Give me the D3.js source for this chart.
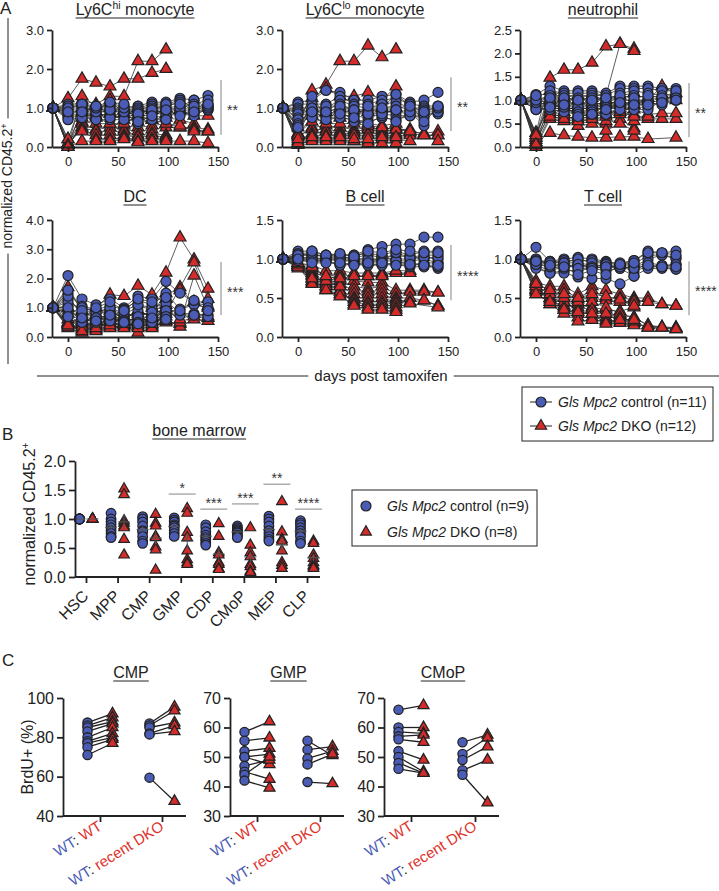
<!DOCTYPE html>
<html><head><meta charset="utf-8">
<script src="https://cdn.jsdelivr.net/npm/d3@7"></script>
<style>body{margin:0;background:#fff}svg{display:block}text{font-family:"Liberation Sans",Arial,Helvetica,sans-serif}</style>
</head><body><svg id="c" width="719" height="891"></svg>
<script>
// ---------------- DATA ----------------
const days = [-15,0,14,28,42,56,70,84,98,112,126,140];
const xTicksA = [0,50,100,150];
const sigA = ["**","**","**","***","****","****"];

const ly6chiCtrl = [
 [1,1.10,1.10,1.05,1.05,1.00,1.05,1.15,1.15,1.25,1.20,1.32],
 [1,1.00,1.05,1.00,1.10,1.05,1.00,1.10,1.10,1.20,1.00,1.10],
 [1,0.95,1.00,0.95,0.95,0.95,0.95,1.05,1.05,1.15,0.90,1.00],
 [1,0.90,0.95,0.90,0.90,0.90,0.90,1.00,1.00,1.05,1.20,1.00],
 [1,0.85,0.90,0.85,1.00,0.85,0.85,0.95,0.95,1.00,0.95,1.05],
 [1,0.80,0.85,0.80,0.85,0.80,0.80,0.90,0.90,0.95,0.90,0.95],
 [1,0.75,0.80,0.75,0.80,0.75,0.75,0.85,0.85,0.90,0.85,0.95],
 [1,0.70,0.75,0.70,0.70,0.70,0.70,0.75,0.80,0.85,0.80,1.00],
 [1,1.05,1.05,0.90,0.75,0.90,0.60,0.70,0.70,1.00,1.10,1.20],
 [1,1.00,1.10,1.00,0.95,1.00,0.85,0.95,1.10,1.10,1.05,1.05],
 [1,0.90,0.90,1.05,1.15,1.10,0.65,0.80,0.95,0.80,0.90,1.10]];
const ly6chiDko = [
 [1,1.25,1.75,1.65,1.55,1.75,1.75,1.90,2.00,null,null,null],
 [1,0.20,1.20,1.10,1.30,1.30,2.20,2.20,2.50,null,null,null],
 [1,0.05,1.30,1.05,1.00,0.95,1.00,1.00,1.00,0.95,0.80,0.80],
 [1,0.10,0.90,0.80,0.85,0.70,0.65,0.70,0.75,0.70,0.60,null],
 [1,0.00,0.65,0.60,0.60,0.55,0.50,0.55,0.60,0.50,0.50,0.45],
 [1,0.00,0.60,0.45,0.50,0.45,0.40,0.45,0.50,0.50,0.45,0.40],
 [1,0.05,0.50,0.40,0.40,0.40,0.30,0.35,0.30,null,null,null],
 [1,0.10,0.45,0.30,0.30,0.30,0.25,0.30,0.25,null,null,null],
 [1,0.20,0.40,0.20,0.20,0.25,0.15,0.20,0.20,null,null,null],
 [1,0.00,0.15,0.15,0.15,0.20,0.12,0.15,0.15,0.15,0.15,0.10],
 [1,0.05,0.75,0.75,0.60,0.60,0.80,0.70,0.60,0.55,0.40,0.40],
 [1,0.00,1.00,0.90,1.20,0.85,0.90,0.95,0.85,null,null,null]];

const ly6cloCtrl = [
 [1,1.15,1.20,1.45,1.40,1.20,1.20,1.30,1.35,1.15,1.20,1.40],
 [1,1.10,1.10,1.10,1.30,1.10,1.10,1.20,1.25,1.10,1.05,1.05],
 [1,1.00,1.00,1.00,1.20,1.05,1.00,1.10,1.15,1.00,1.00,1.00],
 [1,0.95,0.90,0.95,1.10,0.95,0.95,1.00,1.05,0.95,0.95,0.95],
 [1,0.90,0.85,0.90,1.00,0.90,0.90,0.95,0.95,0.90,0.90,0.90],
 [1,0.85,0.80,0.85,0.90,0.85,0.85,0.90,0.90,0.85,0.85,0.85],
 [1,0.75,0.75,0.80,0.80,0.80,0.75,0.85,0.80,0.80,0.80,0.90],
 [1,0.70,1.30,0.75,0.75,0.70,0.65,0.75,0.70,0.80,0.75,null],
 [1,0.60,0.95,0.70,0.95,0.65,0.60,0.80,0.65,0.90,0.55,null],
 [1,0.55,1.00,1.05,1.05,0.95,0.85,0.85,0.95,1.10,0.65,1.00],
 [1,0.50,0.90,0.90,0.85,0.75,1.05,1.00,1.35,1.05,0.90,1.05]];
const ly6cloDko = [
 [1,0.50,1.45,1.60,2.20,2.20,2.60,2.30,2.50,null,null,null],
 [1,0.30,1.25,1.50,1.30,1.30,1.40,1.20,1.55,null,null,null],
 [1,0.35,1.00,0.90,1.00,1.00,0.90,1.00,1.00,null,null,null],
 [1,0.25,0.50,0.55,0.50,0.45,0.50,0.45,0.50,0.40,0.35,0.40],
 [1,0.30,0.45,0.45,0.40,0.40,0.45,0.40,0.45,0.45,0.30,0.30],
 [1,0.15,0.35,0.40,0.35,0.35,0.35,0.35,0.35,0.35,0.30,0.30],
 [1,0.10,0.30,0.30,0.30,0.30,0.30,0.30,0.30,0.30,null,null],
 [1,0.05,0.20,0.20,0.20,0.15,0.15,0.20,0.20,0.15,0.30,0.15],
 [1,0.10,0.15,0.15,0.15,0.15,0.10,0.10,0.10,null,null,null],
 [1,0.35,0.65,0.70,0.75,0.70,0.60,0.55,0.60,null,null,null],
 [1,0.30,0.80,0.60,0.60,0.60,0.55,0.50,0.45,0.40,null,null],
 [1,0.20,0.25,0.25,0.25,0.20,0.20,0.25,0.25,null,null,null]];

const neutroCtrl = [
 [1,1.12,1.30,1.20,1.20,1.20,1.15,1.30,1.30,1.30,1.25,1.25],
 [1,1.05,1.20,1.15,1.15,1.15,1.10,1.25,1.25,1.25,1.20,1.20],
 [1,1.00,1.10,1.10,1.05,1.10,1.00,1.15,1.20,1.15,1.10,1.15],
 [1,0.95,1.00,1.00,1.00,1.05,0.95,1.05,1.10,1.05,1.00,1.10],
 [1,0.90,0.95,0.95,0.95,0.95,0.90,1.00,1.00,1.00,0.95,1.05],
 [1,0.85,0.90,0.90,0.90,0.90,0.85,0.95,0.95,0.95,0.90,1.00],
 [1,0.80,0.85,0.80,0.85,0.80,0.80,0.90,0.90,0.90,null,null],
 [1,0.80,0.80,0.75,0.75,0.75,0.70,0.85,0.85,0.85,null,null],
 [1,0.95,0.90,0.85,0.70,0.70,0.70,0.80,0.80,0.80,1.00,1.20],
 [1,1.00,1.05,1.05,1.00,1.00,1.05,1.10,1.05,1.10,1.05,1.05],
 [1,1.10,0.85,0.90,0.65,0.70,0.80,0.95,0.90,0.90,0.95,1.00]];
const neutroDko = [
 [1,0.30,1.48,1.65,1.65,1.80,2.15,2.20,2.10,null,null,null],
 [1,0.25,1.20,1.10,1.10,1.10,1.10,2.20,2.05,null,null,null],
 [1,0.10,0.30,0.25,0.22,0.20,0.20,0.22,0.22,0.17,null,0.20],
 [1,0.00,0.60,0.55,0.45,0.50,0.50,0.60,0.40,null,null,null],
 [1,0.15,0.70,0.65,0.60,0.65,0.55,0.70,0.70,0.60,0.60,0.60],
 [1,0.20,0.80,0.75,0.70,0.75,0.70,0.80,0.80,0.70,0.72,0.72],
 [1,0.30,0.90,0.85,0.80,0.85,0.80,0.90,0.90,1.05,1.10,1.00],
 [1,0.05,1.00,0.95,0.90,0.95,0.90,1.00,1.00,1.00,1.30,1.15],
 [1,0.20,1.10,1.05,1.00,1.05,1.00,1.10,1.15,null,null,null],
 [1,0.10,0.75,0.70,0.55,0.60,0.35,0.50,0.35,null,null,null],
 [1,0.25,0.95,0.90,0.85,0.90,0.95,0.95,0.55,0.65,null,null],
 [1,0.05,0.65,0.60,0.65,0.70,0.65,0.75,0.65,null,null,null]];

const dcCtrl = [
 [1,2.10,1.30,1.10,1.30,1.00,1.40,1.30,1.90,1.50,1.20,1.20],
 [1,1.50,1.05,0.95,1.05,0.95,1.25,1.10,1.50,0.95,1.10,1.00],
 [1,1.30,0.80,0.75,0.95,0.75,1.05,0.95,1.25,0.80,0.80,0.75],
 [1,1.05,0.70,0.60,0.80,0.70,0.80,0.75,1.00,0.75,0.75,0.70],
 [1,1.20,0.95,0.90,0.90,0.65,0.90,0.70,0.80,null,null,null],
 [1,0.90,0.60,0.50,0.60,0.60,0.60,0.60,0.75,null,null,null],
 [1,0.80,1.00,0.70,0.70,0.90,1.10,1.00,1.15,null,null,null],
 [1,1.40,0.75,0.85,1.00,0.80,0.70,0.85,0.90,0.90,1.25,0.90],
 [1,1.00,0.50,0.65,0.55,0.55,0.50,0.50,0.70,null,null,null],
 [1,1.60,0.90,1.00,1.20,0.90,1.30,1.20,1.35,null,null,null],
 [1,0.70,0.65,0.55,0.75,0.50,0.45,0.65,0.60,null,null,null]];
const dcDko = [
 [1,1.70,0.90,1.00,1.45,1.40,1.75,1.45,2.20,3.40,2.65,1.65],
 [1,0.50,0.45,0.30,0.50,0.40,0.50,0.40,0.80,1.70,2.55,1.30],
 [1,0.40,0.30,0.25,0.35,0.35,0.45,0.35,0.50,0.45,2.10,1.00],
 [1,0.30,0.15,0.20,0.30,0.40,0.15,0.30,0.60,0.35,0.60,0.55],
 [1,0.60,0.50,0.40,0.60,0.50,0.70,0.50,1.10,0.50,0.70,0.65],
 [1,1.00,0.60,0.55,0.70,0.60,0.90,0.70,1.30,null,null,null],
 [1,0.45,0.25,0.35,0.45,0.45,0.35,0.45,0.70,null,null,null],
 [1,0.35,0.40,0.50,0.55,0.55,0.60,0.60,0.90,0.60,0.80,0.70],
 [1,0.80,0.35,0.45,0.40,0.30,0.55,0.55,0.55,null,null,null],
 [1,0.50,0.55,0.60,0.80,0.70,0.80,0.80,1.50,1.60,1.20,1.05],
 [1,0.45,0.70,0.75,0.90,0.45,0.40,0.65,1.00,null,null,null],
 [1,0.40,0.20,0.30,0.65,0.50,0.30,1.00,0.60,null,null,null]];

const bcellCtrl = [
 [1,1.10,1.10,1.05,1.05,1.05,1.12,1.16,1.19,1.19,1.28,1.28],
 [1,1.07,1.05,1.05,1.05,1.05,1.07,1.05,1.10,1.05,1.10,1.10],
 [1,1.05,1.05,1.03,1.02,1.02,1.05,1.02,1.05,1.02,1.05,1.05],
 [1,1.02,1.02,1.00,1.00,1.00,1.00,1.00,1.00,1.00,1.02,1.00],
 [1,1.00,1.00,1.00,0.97,0.98,0.97,0.97,0.98,0.97,1.00,0.95],
 [1,1.00,0.98,0.98,0.93,0.95,0.93,0.93,0.95,0.95,0.92,0.88],
 [1,0.98,0.97,0.97,0.92,0.93,0.92,0.92,0.93,0.90,0.90,0.90],
 [1,1.02,1.00,1.00,1.00,0.97,0.95,1.03,0.98,0.92,0.95,0.95],
 [1,1.03,1.07,1.02,1.03,1.00,1.00,0.97,1.08,1.02,1.02,1.02],
 [1,1.05,1.10,1.05,1.07,1.03,1.10,1.08,1.12,1.10,1.08,1.08],
 [1,1.00,0.95,0.95,0.95,0.92,0.95,0.95,0.92,0.93,0.92,0.92]];
const bcellDko = [
 [1,0.95,0.92,0.85,0.85,0.82,0.82,0.82,0.85,0.85,null,null],
 [1,0.92,0.88,0.78,0.80,0.78,0.78,0.80,0.82,0.82,null,null],
 [1,0.90,0.85,0.75,0.78,0.72,0.70,0.70,0.60,0.60,0.60,0.57],
 [1,0.95,0.82,0.70,0.72,0.65,0.62,0.65,0.55,0.58,0.58,0.57],
 [1,0.93,0.80,0.68,0.68,0.60,0.58,0.60,0.50,0.50,0.47,0.40],
 [1,0.90,0.78,0.65,0.65,0.55,0.55,0.55,0.48,0.45,0.47,0.40],
 [1,0.88,0.75,0.62,0.60,0.50,0.50,0.50,0.45,0.43,null,0.38],
 [1,0.95,0.72,0.60,0.55,0.48,0.45,0.45,0.42,null,null,null],
 [1,0.92,0.70,0.65,0.58,0.45,0.42,0.42,0.38,null,null,null],
 [1,0.90,0.68,0.60,0.52,0.42,0.38,0.38,0.35,null,null,null],
 [1,0.93,0.75,0.72,0.65,0.40,0.35,0.35,0.32,null,null,null],
 [1,0.95,0.90,0.78,0.75,0.78,0.78,0.78,0.85,null,null,null]];

const tcellCtrl = [
 [1,1.15,0.97,1.00,1.02,1.00,0.97,0.93,0.98,1.10,1.08,1.10],
 [1,1.00,0.95,0.98,0.98,0.98,0.95,0.92,0.93,1.05,1.05,1.02],
 [1,0.95,0.90,0.95,0.95,0.92,0.92,0.90,0.88,0.92,0.90,0.93],
 [1,0.92,0.85,0.90,0.90,0.90,0.88,0.90,0.85,0.90,0.90,0.87],
 [1,0.90,0.82,0.85,0.85,0.88,0.85,0.88,0.78,0.88,0.88,0.87],
 [1,0.88,0.82,0.82,0.77,0.75,0.75,0.68,0.78,null,null,null],
 [1,1.00,0.92,0.92,0.92,0.90,0.90,0.92,0.90,1.00,1.05,1.00],
 [1,0.95,0.97,0.95,1.00,0.95,0.95,0.95,0.98,1.08,1.08,1.05],
 [1,0.93,0.90,0.88,0.93,0.90,0.93,0.88,0.90,0.95,0.92,0.93],
 [1,0.98,0.95,0.95,0.88,0.88,0.90,0.90,0.88,0.92,0.90,0.90],
 [1,0.97,0.92,0.90,0.80,0.85,0.80,0.93,0.95,null,null,null]];
const tcellDko = [
 [1,0.70,0.65,0.65,0.55,0.65,0.60,0.55,0.50,0.50,0.42,0.40],
 [1,0.68,0.60,0.60,0.50,0.60,0.50,0.50,0.48,0.45,0.42,0.40],
 [1,0.65,0.55,0.55,0.48,0.50,0.47,0.45,0.45,null,null,null],
 [1,0.60,0.50,0.45,0.42,0.38,0.35,0.33,0.38,null,null,null],
 [1,0.55,0.45,0.40,0.38,0.35,0.30,0.28,0.25,0.15,0.13,0.12],
 [1,0.72,0.42,0.35,0.30,0.30,0.25,0.25,0.20,0.12,0.12,0.10],
 [1,0.62,0.50,0.45,0.35,0.45,0.38,0.30,0.25,0.15,0.12,0.12],
 [1,0.58,0.42,0.30,0.25,0.25,0.22,0.20,0.18,0.12,null,0.10],
 [1,0.60,0.48,0.38,0.20,0.22,0.20,0.18,0.15,null,null,null],
 [1,0.65,0.55,0.50,0.45,0.35,0.30,0.25,0.20,null,null,null],
 [1,0.55,0.45,0.35,0.32,0.30,0.17,0.22,0.22,null,null,null],
 [1,0.68,0.60,0.55,0.50,0.55,0.52,0.48,0.40,null,null,null]];

// Panel B
const bmCategories = ["HSC","MPP","CMP","GMP","CDP","CMoP","MEP","CLP"];
const bmCtrl = [
 [1,1,1,1,1,1,1,1,1],
 [1.10,1.00,0.95,0.90,0.85,0.80,0.75,0.70,0.68],
 [1.04,1.00,0.95,0.88,0.80,0.78,0.70,0.62,0.58],
 [1.02,0.98,0.95,0.90,0.88,0.85,0.80,0.75,0.70],
 [0.90,0.85,0.78,0.72,0.68,0.65,0.62,0.58,0.55],
 [0.88,0.85,0.82,0.80,0.78,0.76,0.72,0.70,0.68],
 [1.05,1.00,0.95,0.88,0.80,0.75,0.70,0.65,0.62],
 [0.97,0.93,0.90,0.85,0.80,0.75,0.70,0.62,0.58]];
const bmDko = [
 [1,1,1,1,1,1,1,1],
 [1.52,1.42,0.97,0.93,0.88,0.85,0.65,0.38],
 [1.08,0.93,0.88,0.70,0.68,0.52,0.47,0.12],
 [1.18,1.10,0.77,0.68,0.45,0.30,0.25,0.22],
 [0.92,0.70,0.42,0.38,0.25,0.22,0.15,0.13],
 [0.85,0.55,0.42,0.35,0.22,0.18,0.10,0.08],
 [1.30,0.78,0.65,0.62,0.45,0.25,0.20,0.15],
 [0.62,0.58,0.38,0.32,0.25,0.20,0.18,0.15]];
const bmSig = ["","","","*","***","***","**","****"];
const bmSigLevel = [null,null,null,1.43,1.17,1.26,1.60,1.17];

// Panel C
const cGroups = ["WT: WT","WT: recent DKO"];
const cmpWtCtrl = [87.5,86,85,83,80,78,77,75,71];
const cmpWtDko  = [92,90,88,87,85,82,80,79,77];
const cmpDkoCtrl = [87,86,85,82,81.5,59.5];
const cmpDkoDko  = [95.5,93.5,87.5,86,83,47.5];
const gmpWtCtrl = [58.5,55.5,52,50,50,47,45,44,42];
const gmpWtDko  = [62,56.5,53,51,47.5,49,42.5,50,39.5];
const gmpDkoCtrl = [55.5,52.5,49.5,47.5,41.5];
const gmpDkoDko  = [50.5,53.5,52,51,41];
const cmopWtCtrl = [66,60,58.5,57,56,52,50,48,46];
const cmopWtDko  = [67.5,60,58,57.5,55,49,45,44.5,44.5];
const cmopDkoCtrl = [55,51,49,45.5,44];
const cmopDkoDko  = [57.5,56.5,53.5,49,34.5];

// ---------------- DRAW ----------------
const svg = d3.select("#c");
const BLUE = "#4a5cb6", RED = "#d42b2b", INK = "#222", SIG = "#999";

function styleAxis(sel, fs, sw) {
  sel.selectAll(".domain,.tick line").attr("stroke", INK).attr("stroke-width", sw);
  sel.selectAll("text").attr("font-size", fs).attr("fill", INK)
    .attr("font-family", '"Liberation Sans",Arial,sans-serif');
}
function titleText(x, y, parts, fs) {
  const t = svg.append("text").attr("x", x).attr("y", y).attr("text-anchor", "middle")
    .attr("font-size", fs).attr("fill", INK);
  let shifted = false;
  parts.forEach(p => {
    const ts = t.append("tspan").text(p.t);
    if (p.sup) { ts.attr("dy", -fs * 0.38).attr("font-size", fs * 0.65); shifted = true; }
    else if (shifted) { ts.attr("dy", fs * 0.38); shifted = false; }
  });
  const bb = t.node().getBBox();
  svg.append("line").attr("x1", bb.x).attr("x2", bb.x + bb.width).attr("y1", y + 3).attr("y2", y + 3)
    .attr("stroke", INK).attr("stroke-width", 1);
}
const tri = (s) => d3.symbol().type(d3.symbolTriangle).size(s)();

// ---------- Panel A ----------
const panelsA = [
  {title:[{t:"Ly6C"},{t:"hi",sup:1},{t:" monocyte"}], ctrl:ly6chiCtrl, dko:ly6chiDko, yMax:3, yTicks:[0,1,2,3], L:52, row:0, sig:[0.31,1.72]},
  {title:[{t:"Ly6C"},{t:"lo",sup:1},{t:" monocyte"}], ctrl:ly6cloCtrl, dko:ly6cloDko, yMax:3, yTicks:[0,1,2,3], L:282, row:0, sig:[0.41,1.79]},
  {title:[{t:"neutrophil"}], ctrl:neutroCtrl, dko:neutroDko, yMax:2.5, yTicks:[0,0.5,1,1.5,2,2.5], L:520, row:0, sig:[0.21,1.37]},
  {title:[{t:"DC"}], ctrl:dcCtrl, dko:dcDko, yMax:4, yTicks:[0,1,2,3,4], L:52, row:1, sig:[0.75,2.56]},
  {title:[{t:"B cell"}], ctrl:bcellCtrl, dko:bcellDko, yMax:1.5, yTicks:[0,0.5,1,1.5], L:282, row:1, sig:[0.47,1.18]},
  {title:[{t:"T cell"}], ctrl:tcellCtrl, dko:tcellDko, yMax:1.5, yTicks:[0,0.5,1,1.5], L:520, row:1, sig:[0.28,0.97]}
];
const rows = [{top:30,bottom:147,title:15},{top:220,bottom:337,title:202}];

panelsA.forEach((p, k) => {
  const r = rows[p.row];
  const x = d3.scaleLinear().domain([-16,150]).range([p.L, p.L + 166]);
  const y = d3.scaleLinear().domain([0, p.yMax]).range([r.bottom, r.top]);
  const g = svg.append("g");
  const line = d3.line().x(d => x(d[0])).y(d => y(d[1]));
  const all = p.dko.concat(p.ctrl);
  all.forEach(s => {
    const pts = days.map((d, i) => [d, s[i]]).filter(d => d[1] != null);
    g.append("path").attr("d", line(pts)).attr("fill", "none").attr("stroke", "#333").attr("stroke-width", 0.8);
  });
  p.dko.forEach(s => days.forEach((d, i) => { if (s[i] != null)
    g.append("path").attr("d", tri(62)).attr("transform", `translate(${x(d)},${y(s[i])})`)
     .attr("fill", RED).attr("stroke", INK).attr("stroke-width", 1.2); }));
  p.ctrl.forEach(s => days.forEach((d, i) => { if (s[i] != null)
    g.append("circle").attr("cx", x(d)).attr("cy", y(s[i])).attr("r", 5)
     .attr("fill", BLUE).attr("stroke", INK).attr("stroke-width", 1.2); }));
  const xa = g.append("g").attr("transform", `translate(0,${r.bottom})`)
    .call(d3.axisBottom(x).tickValues(xTicksA).tickSize(5).tickSizeOuter(0).tickPadding(5));
  styleAxis(xa, 13, 1.8);
  const ya = g.append("g").attr("transform", `translate(${p.L},0)`)
    .call(d3.axisLeft(y).tickValues(p.yTicks).tickFormat(d3.format(".1f")).tickSize(5).tickSizeOuter(0).tickPadding(3));
  styleAxis(ya, 13, 1.8);
  g.append("line").attr("x1", p.L + 169).attr("x2", p.L + 169).attr("y1", y(p.sig[0])).attr("y2", y(p.sig[1]))
    .attr("stroke", SIG).attr("stroke-width", 1.2);
  g.append("text").attr("x", p.L + 175).attr("y", (y(p.sig[0]) + y(p.sig[1])) / 2 + 8)
    .attr("font-size", 14).attr("fill", "#333").text(sigA[k]);
  titleText(p.L + 83, r.title, p.title, 16);
});
svg.append("text").attr("x", 0).attr("y", 14).attr("font-size", 17).attr("fill", INK).text("A");

{
  const t = svg.append("text").attr("transform", "translate(12,186) rotate(-90)").attr("text-anchor", "middle")
    .attr("font-size", 14).attr("fill", INK);
  t.append("tspan").text("normalized CD45.2");
  t.append("tspan").attr("dy", -5).attr("font-size", 9).text("+");
  const bb = t.node().getBBox();
  const half = bb.width / 2;
  svg.append("line").attr("x1", 8).attr("x2", 8).attr("y1", 18).attr("y2", 186 - half - 5).attr("stroke", INK).attr("stroke-width", 1);
  svg.append("line").attr("x1", 8).attr("x2", 8).attr("y1", 186 + half + 5).attr("y2", 364).attr("stroke", INK).attr("stroke-width", 1);
}
{
  const t = svg.append("text").attr("x", 381).attr("y", 381).attr("text-anchor", "middle")
    .attr("font-size", 15).attr("fill", INK).text("days post tamoxifen");
  const bb = t.node().getBBox();
  svg.append("line").attr("x1", 37).attr("x2", bb.x - 6).attr("y1", 376).attr("y2", 376).attr("stroke", INK).attr("stroke-width", 1);
  svg.append("line").attr("x1", bb.x + bb.width + 6).attr("x2", 719).attr("y1", 376).attr("y2", 376).attr("stroke", INK).attr("stroke-width", 1);
}
function legendLabel(x, y, suffix, fs) {
  const t = svg.append("text").attr("x", x).attr("y", y).attr("font-size", fs).attr("fill", INK);
  t.append("tspan").attr("font-style", "italic").text("Gls Mpc2");
  t.append("tspan").text(" " + suffix);
}
{
  svg.append("rect").attr("x", 522).attr("y", 387).attr("width", 191).attr("height", 54)
    .attr("fill", "none").attr("stroke", INK).attr("stroke-width", 1);
  const r1 = 402, r2 = 426;
  svg.append("line").attr("x1", 530).attr("x2", 552).attr("y1", r1).attr("y2", r1).attr("stroke", INK).attr("stroke-width", 1);
  svg.append("circle").attr("cx", 541).attr("cy", r1).attr("r", 5).attr("fill", BLUE).attr("stroke", INK).attr("stroke-width", 1.2);
  legendLabel(558, r1 + 5, "control (n=11)", 14);
  svg.append("line").attr("x1", 530).attr("x2", 552).attr("y1", r2).attr("y2", r2).attr("stroke", INK).attr("stroke-width", 1);
  svg.append("path").attr("d", tri(55)).attr("transform", `translate(541,${r2})`).attr("fill", RED).attr("stroke", INK).attr("stroke-width", 1.2);
  legendLabel(558, r2 + 5, "DKO (n=12)", 14);
}

// ---------- Panel B ----------
{
  const xB = d3.scalePoint().domain(bmCategories).range([86, 307]);
  const yB = d3.scaleLinear().domain([0, 2]).range([577, 461]);
  const off = 6.5;
  const g = svg.append("g");
  bmCategories.forEach((c, i) => {
    bmCtrl[i].forEach(v => g.append("circle").attr("cx", xB(c) - off).attr("cy", yB(v)).attr("r", 4.8)
      .attr("fill", BLUE).attr("stroke", INK).attr("stroke-width", 1.2));
    bmDko[i].forEach(v => g.append("path").attr("d", tri(48)).attr("transform", `translate(${xB(c) + off},${yB(v)})`)
      .attr("fill", RED).attr("stroke", INK).attr("stroke-width", 1.2));
    [[bmCtrl[i], -off], [bmDko[i], off]].forEach(([vals, o]) => {
      const m = d3.mean(vals), sd = d3.deviation(vals) || 0, se = sd / Math.sqrt(vals.length);
      const cx = xB(c) + o;
      g.append("line").attr("x1", cx - 6).attr("x2", cx + 6).attr("y1", yB(m)).attr("y2", yB(m)).attr("stroke", "#555").attr("stroke-width", 1);
      if (se > 0) g.append("line").attr("x1", cx).attr("x2", cx).attr("y1", yB(m - se)).attr("y2", yB(m + se)).attr("stroke", "#555").attr("stroke-width", 1);
    });
    if (bmSig[i]) {
      const yy = yB(bmSigLevel[i]);
      g.append("line").attr("x1", xB(c) - 12).attr("x2", xB(c) + 15).attr("y1", yy).attr("y2", yy).attr("stroke", SIG).attr("stroke-width", 1.2);
      g.append("text").attr("x", xB(c) + 1.5).attr("y", yy - 1).attr("text-anchor", "middle").attr("font-size", 14).attr("fill", "#333").text(bmSig[i]);
    }
  });
  const xa = g.append("g").attr("transform", "translate(0,577)")
    .call(d3.axisBottom(xB).tickSize(6).tickSizeOuter(0));
  xa.select(".domain").attr("d", "M75,0H320");
  styleAxis(xa, 16, 1.8);
  xa.selectAll("text").attr("text-anchor", "end").attr("x", 0).attr("y", 0).attr("dy", "0.35em")
    .attr("transform", "translate(-1,16) rotate(-45)");
  const ya = g.append("g").attr("transform", "translate(75,0)")
    .call(d3.axisLeft(yB).tickValues([0, 0.5, 1, 1.5, 2]).tickFormat(d3.format(".1f")).tickSize(6).tickSizeOuter(0).tickPadding(3));
  styleAxis(ya, 16, 1.8);
  const t = svg.append("text").attr("transform", "translate(35,514) rotate(-90)").attr("text-anchor", "middle")
    .attr("font-size", 16).attr("fill", INK);
  t.append("tspan").text("normalized CD45.2");
  t.append("tspan").attr("dy", -6).attr("font-size", 10).text("+");
  svg.append("text").attr("x", 2).attr("y", 440).attr("font-size", 17).attr("fill", INK).text("B");
  titleText(199, 436, [{t:"bone marrow"}], 16);
  svg.append("rect").attr("x", 352).attr("y", 490).attr("width", 185).attr("height", 56)
    .attr("fill", "none").attr("stroke", INK).attr("stroke-width", 1);
  svg.append("circle").attr("cx", 366).attr("cy", 506).attr("r", 5).attr("fill", BLUE).attr("stroke", INK).attr("stroke-width", 1.2);
  legendLabel(387, 511, "control (n=9)", 14);
  svg.append("path").attr("d", tri(50)).attr("transform", "translate(366,532)").attr("fill", RED).attr("stroke", INK).attr("stroke-width", 1.2);
  legendLabel(387, 537, "DKO (n=8)", 14);
}

// ---------- Panel C ----------
const panelsC = [
  {title:"CMP", L:63, dom:[40,100], ticks:[40,60,80,100], t:[100,162], wt:[cmpWtCtrl,cmpWtDko], rd:[cmpDkoCtrl,cmpDkoDko]},
  {title:"GMP", L:230, dom:[30,70], ticks:[30,40,50,60,70], t:[257,320], wt:[gmpWtCtrl,gmpWtDko], rd:[gmpDkoCtrl,gmpDkoDko]},
  {title:"CMoP", L:384, dom:[30,70], ticks:[30,40,50,60,70], t:[411,475], wt:[cmopWtCtrl,cmopWtDko], rd:[cmopDkoCtrl,cmopDkoDko]}
];
panelsC.forEach(p => {
  const y = d3.scaleLinear().domain(p.dom).range([816, 698]);
  const x = d3.scalePoint().domain(cGroups).range(p.t);
  const g = svg.append("g");
  const dx = 12.5;
  [p.wt, p.rd].forEach((grp, gi) => {
    const cx = x(cGroups[gi]);
    grp[0].forEach((v, i) => g.append("line").attr("x1", cx - dx).attr("x2", cx + dx)
      .attr("y1", y(v)).attr("y2", y(grp[1][i])).attr("stroke", INK).attr("stroke-width", 1.3));
    grp[0].forEach(v => g.append("circle").attr("cx", cx - dx).attr("cy", y(v)).attr("r", 4.6)
      .attr("fill", BLUE).attr("stroke", INK).attr("stroke-width", 1.3));
    grp[1].forEach(v => g.append("path").attr("d", tri(52)).attr("transform", `translate(${cx + dx},${y(v)})`)
      .attr("fill", RED).attr("stroke", INK).attr("stroke-width", 1.3));
  });
  const xa = g.append("g").attr("transform", "translate(0,816)")
    .call(d3.axisBottom(x).tickSize(6).tickSizeOuter(0).tickFormat(""));
  xa.select(".domain").attr("d", `M${p.L},0H${p.t[1] + 24}`);
  styleAxis(xa, 15, 1.8);
  const ya = g.append("g").attr("transform", `translate(${p.L},0)`)
    .call(d3.axisLeft(y).tickValues(p.ticks).tickSize(6).tickSizeOuter(0).tickPadding(3));
  styleAxis(ya, 16, 1.8);
  cGroups.forEach((c, gi) => {
    const t = g.append("text").attr("text-anchor", "end").attr("font-size", 15)
      .attr("transform", `translate(${x(c) + 3},${829}) rotate(-32)`);
    t.append("tspan").attr("fill", BLUE).text("WT");
    t.append("tspan").attr("fill", INK).text(": ");
    t.append("tspan").attr("fill", "#e0312b").text(gi === 0 ? "WT" : "recent DKO");
  });
  titleText((p.t[0] + p.t[1]) / 2, 678, [{t:p.title}], 16);
});
svg.append("text").attr("transform", "translate(33,757) rotate(-90)").attr("text-anchor", "middle")
  .attr("font-size", 16).attr("fill", INK).text("BrdU+ (%)");
svg.append("text").attr("x", 2).attr("y", 666).attr("font-size", 17).attr("fill", INK).text("C");
</script></body></html>
